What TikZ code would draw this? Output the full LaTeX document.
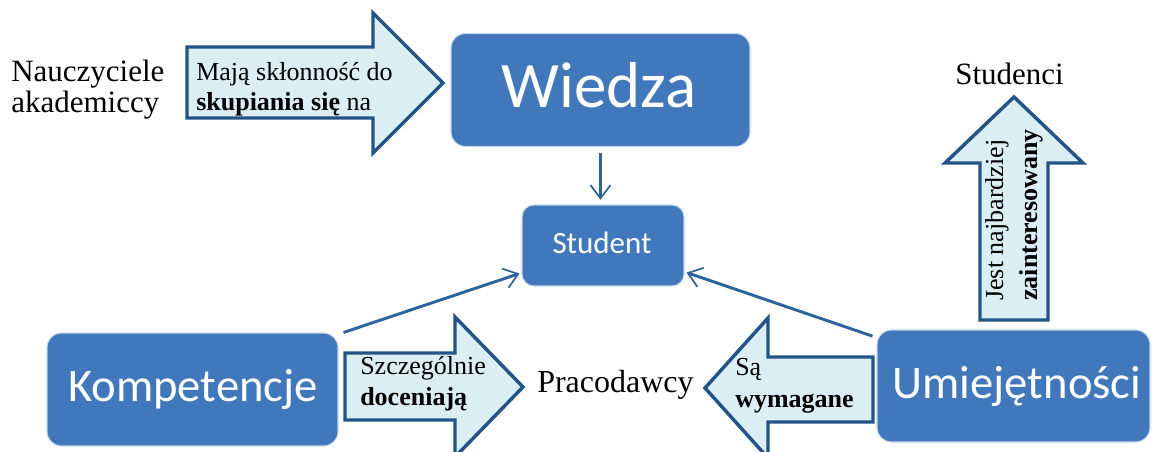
\documentclass[tikz,border=0pt]{standalone}
\usepackage{fontspec}
\setmainfont{Liberation Serif}
\newfontfamily\boxfont{Carlito}
\usetikzlibrary{arrows.meta}
\definecolor{boxblue}{RGB}{64,120,187}
\definecolor{arrowfill}{RGB}{218,238,243}
\definecolor{arrowline}{RGB}{35,84,135}
\definecolor{connblue}{RGB}{46,100,158}
\begin{document}
\begin{tikzpicture}[x=0.75pt,y=-0.75pt,
  box/.style={draw=white!70!boxblue, line width=0.8pt, fill=boxblue, rounded corners=11pt, inner sep=0pt},
  boxlabel/.style={text=white, font=\boxfont, inner sep=0pt, anchor=base},
  blockarrow/.style={draw=arrowline, fill=arrowfill, line width=2.6pt, line join=miter},
  conn/.style={draw=connblue, line width=2.2pt, -{Straight Barb[length=10pt,width=15pt,line width=1.3pt]}},
  txt/.style={inner sep=0pt, anchor=base west, text=black}]
\useasboundingbox (0,0) rectangle (1152,452);
\clip (0,0) rectangle (1152,452);
\fill[white] (0,0) rectangle (1152,452);

% boxes
\node[box, minimum width=224.25pt, minimum height=84.75pt] (wiedza) at (600.5,90) {};
\node[boxlabel, font=\boxfont\fontsize{48.75}{50}\selectfont] (wiedzaT) at (599,108) {Wiedza};
\node[box, rounded corners=9pt, minimum width=121.5pt, minimum height=60.75pt] (student) at (603,245.5) {};
\node[boxlabel, font=\boxfont\fontsize{23.25}{25}\selectfont] (studentT) at (602,253) {Student};
\node[box, minimum width=218.25pt, minimum height=84.75pt] (komp) at (192.5,389.5) {};
\node[boxlabel, font=\boxfont\fontsize{35}{37}\selectfont] (kompT) at (193,401) {Kompetencje};
\node[box, minimum width=204.75pt, minimum height=84pt] (umiej) at (1013.5,386) {};
\node[boxlabel, font=\boxfont\fontsize{35}{37}\selectfont] (umiejT) at (1017,398) {Umiejętności};

% connectors
\draw[conn] ([yshift=-4.5pt]wiedza.south) -- ([yshift=3.5pt]wiedza.south |- student.north);
\draw[conn] ([xshift=3.75pt]komp.north east) -- ([shift={(-1.5pt,9.75pt)}]student.south west);
\draw[conn] ([shift={(-3pt,-5pt)}]umiej.north west) -- ([shift={(1.5pt,10.5pt)}]student.south east);

% block arrows
\draw[blockarrow] (187,47) -- (373,47) -- (373,13) -- (443,83) -- (373,153) -- (373,118) -- (187,118) -- cycle;
\draw[blockarrow] (345,353) -- (455,353) -- (455,317) -- (523,387) -- (455,457) -- (455,420) -- (345,420) -- cycle;
\draw[blockarrow] (873,357) -- (768,357) -- (768,318) -- (705,388) -- (768,458) -- (768,422) -- (873,422) -- cycle;
\draw[blockarrow] (980,320) -- (980,163) -- (945,163) -- (1014,97) -- (1083,163) -- (1048,163) -- (1048,320) -- cycle;

% texts
\node[txt, font=\fontsize{23.25}{25}\selectfont] (nauc1) at (11,82) {Nauczyciele};
\node[txt, font=\fontsize{23.25}{25}\selectfont] (nauc2) at (11,113) {akademiccy};
\node[txt, font=\fontsize{19.5}{21}\selectfont] (maja1) at (196,81) {Mają skłonność do};
\node[txt, font=\fontsize{19.5}{21}\selectfont] (maja2) at (196,111) {\textbf{skupiania się} na};
\node[txt, font=\fontsize{19.5}{21}\selectfont] (szcz1) at (360,374) {Szczególnie};
\node[txt, font=\fontsize{19.5}{21}\selectfont] (szcz2) at (360,405) {\textbf{doceniają}};
\node[txt, font=\fontsize{24}{26}\selectfont] (praco) at (537,392) {Pracodawcy};
\node[txt, font=\fontsize{19.5}{21}\selectfont] (sa1) at (735,375) {Są};
\node[txt, font=\fontsize{19.5}{21}\selectfont] (sa2) at (735,407) {\textbf{wymagane}};
\node[txt, font=\fontsize{23.25}{25}\selectfont] (stud) at (955,85) {Studenci};
\node[txt, rotate=90, font=\fontsize{19.5}{21}\selectfont] (jest1) at (1003,301) {Jest najbardziej};
\node[txt, rotate=90, font=\fontsize{19.5}{21}\selectfont] (jest2) at (1037,301) {\textbf{zainteresowany}};
\end{tikzpicture}
\end{document}
